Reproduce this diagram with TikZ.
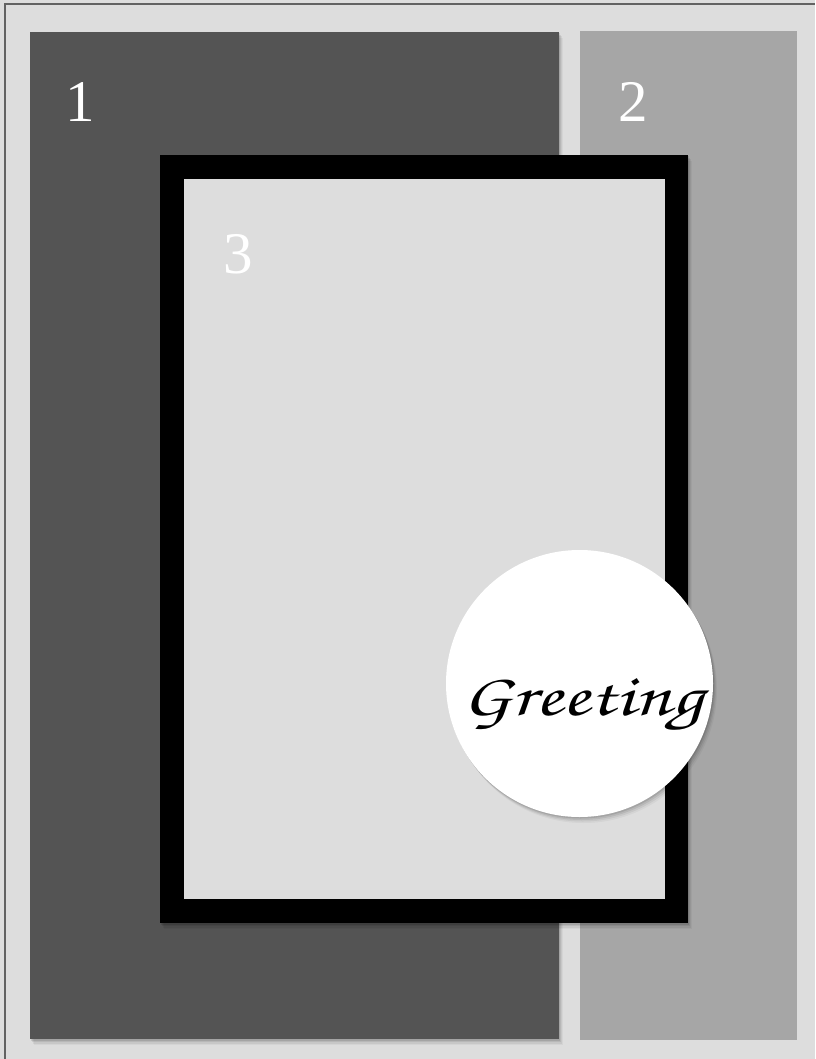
\documentclass[tikz,border=0pt]{standalone}
\usepackage[T1,TU]{fontenc}
\usepackage{fontspec}
\newfontfamily\numfont{Liberation Serif}
\usetikzlibrary{shadows}
\definecolor{bgl}{HTML}{DDDDDD}
\definecolor{darkp}{HTML}{545454}
\definecolor{midp}{HTML}{A6A6A6}
\definecolor{framel}{HTML}{626262}
\tikzset{
  softshadow/.style={
    preaction={fill=black,opacity=.10,transform canvas={shift={(1pt,-1.5pt)}}},
    preaction={fill=black,opacity=.08,transform canvas={shift={(2pt,-3pt)}}},
    preaction={fill=black,opacity=.06,transform canvas={shift={(3pt,-4.5pt)}}},
    preaction={fill=black,opacity=.04,transform canvas={shift={(4pt,-6pt)}}}},
  panel/.style={rectangle,inner sep=0pt,outer sep=0pt},
  num/.style={text=white,font=\numfont\fontsize{59}{60}\selectfont,inner sep=0pt}
}
\begin{document}
\begin{tikzpicture}[x=1pt,y=1pt]
\useasboundingbox (0,0) rectangle (815,-1059);
\fill[bgl] (0,0) rectangle (815,-1059);
\coordinate (bl) at (5,-1059);
\coordinate (tl) at (5,-4);
\coordinate (tr) at (815,-4);
\draw[framel,line width=2pt] (bl) -- (tl) -- (tr);
\node[panel,fill=darkp,softshadow,minimum width=529pt,minimum height=1007pt] (p1) at (294.5,-535.5) {};
\node[panel,fill=midp,minimum width=217pt,minimum height=1009pt] (p2) at (688.5,-535.5) {};
\node[panel,fill=black,softshadow,minimum width=528pt,minimum height=768pt] (fr) at (424,-539) {};
\node[panel,fill=bgl,minimum width=481pt,minimum height=720pt] (in) at (424.5,-539) {};
\node[num] (n1) at (80,-102) {1};
\node[num] (n2) at (633.5,-102) {2};
\node[num] (n3) at (238.5,-254.5) {3};
\node[circle,fill=white,softshadow,minimum size=267pt,inner sep=0pt] (c) at (579.5,-683.5) {};
\node[inner sep=0pt,anchor=base,xscale=1.33,font=\fontencoding{T1}\fontfamily{pzc}\fontseries{mb}\fontshape{it}\fontsize{60}{62}\selectfont] (g) at (582.5,-715) {Greeting};
\end{tikzpicture}
\end{document}
